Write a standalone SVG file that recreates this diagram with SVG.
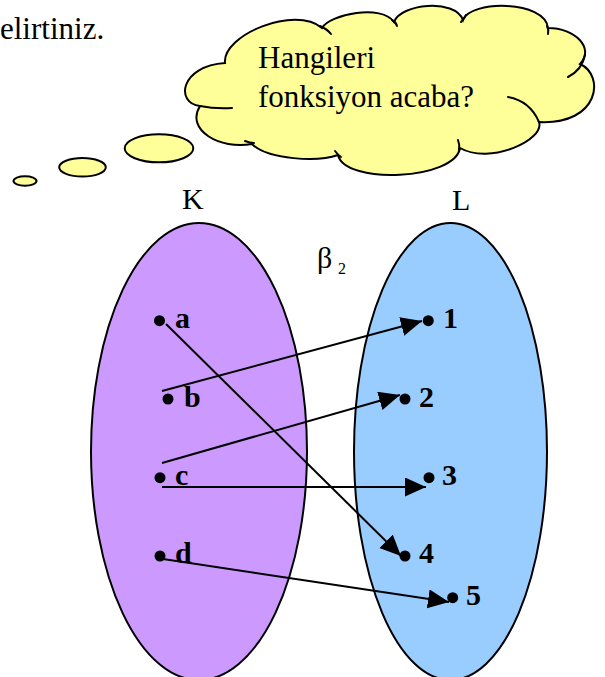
<svg xmlns="http://www.w3.org/2000/svg" width="605" height="677" viewBox="0 0 605 677">
  <style>
    .t { font-family: "Liberation Serif", "Times New Roman", serif; fill: #000; }
    .big { font-size: 31px; }
    .lbl { font-size: 30px; }
    .b { font-size: 30px; font-weight: bold; }
    .cloud { fill: #FFFF99; stroke: #000; stroke-width: 2; }
    .curl { fill: none; stroke: #000; stroke-width: 2; stroke-linecap: round; }
    .set { stroke: #000; stroke-width: 2; }
    .dot { fill: #000; }
    .conn { stroke: #000; stroke-width: 2; fill: none; marker-end: url(#ah); }
  </style>
  <defs>
    <marker id="ah" markerUnits="userSpaceOnUse" markerWidth="22" markerHeight="20" refX="21" refY="9.5" orient="auto">
      <path d="M0,0 L21,9.5 L0,19 z" fill="#000"/>
    </marker>
  </defs>
  <rect width="605" height="677" fill="#fff"/>

  <text class="t big" x="0" y="39">elirtiniz.</text>

  <g id="thought">
    <ellipse class="cloud" cx="25" cy="181" rx="11.5" ry="4.7"/>
    <ellipse class="cloud" cx="82.5" cy="167.3" rx="23.3" ry="9.3"/>
    <ellipse class="cloud" cx="159" cy="148.3" rx="34.3" ry="14"/>
    <path class="cloud" d="M200,106 C175,103 180,66 225,63 C222,35 295,5 322,28 C330,14 382,4 394,22 C400,4 455,-2 463,20 C470,0 545,0 548,28 C575,28 595,48 580,64 C605,75 600,125 539,122 C545,140 490,165 460,148 C455,180 345,185 338,155 C318,162 268,160 252,144 C220,150 185,130 200,106 Z"/>
    <path class="curl" d="M200,106 Q215,109 232,108"/>
    <path class="curl" d="M320,26 Q327,29 331,34"/>
    <path class="curl" d="M392,20 Q396,22 397,26"/>
    <path class="curl" d="M466,15 Q464,19 461,22"/>
    <path class="curl" d="M547,26 Q549,30 548,34"/>
    <path class="curl" d="M585,55 Q582,70 568,77"/>
    <path class="curl" d="M508,97 Q530,101 539,122"/>
    <path class="curl" d="M458,140 Q460,145 459,150"/>
    <path class="curl" d="M335,151 Q338,155 341,157"/>
    <path class="curl" d="M245,141 Q250,143 254,143"/>
    <text class="t big" x="258" y="68">Hangileri</text>
    <text class="t big" x="258" y="107">fonksiyon acaba?</text>
  </g>

  <g id="setK">
    <ellipse class="set" cx="199" cy="451.5" rx="108" ry="228.5" fill="#CC99FF"/>
    <text class="t lbl" x="182" y="209">K</text>
  </g>
  <g id="setL">
    <ellipse class="set" cx="450.5" cy="451.5" rx="96.5" ry="228.5" fill="#99CCFF"/>
    <text class="t lbl" x="452" y="210">L</text>
  </g>

  <g id="beta">
    <text class="t lbl" x="317" y="268">β</text>
    <text class="t" x="338" y="274" font-size="16">2</text>
  </g>

  <g id="node-a"><circle class="dot" cx="159.5" cy="320.7" r="5.5"/><text class="t b" x="175" y="328">a</text></g>
  <g id="node-b"><circle class="dot" cx="168" cy="399" r="5.5"/><text class="t b" x="184" y="407">b</text></g>
  <g id="node-c"><circle class="dot" cx="160" cy="477.7" r="5.5"/><text class="t b" x="175" y="485">c</text></g>
  <g id="node-d"><circle class="dot" cx="160" cy="556" r="5.5"/><text class="t b" x="175" y="563">d</text></g>

  <g id="node-1"><circle class="dot" cx="428.3" cy="320.7" r="5.5"/><text class="t b" x="443" y="328">1</text></g>
  <g id="node-2"><circle class="dot" cx="405" cy="399" r="5.5"/><text class="t b" x="419" y="407">2</text></g>
  <g id="node-3"><circle class="dot" cx="429" cy="477.7" r="5.5"/><text class="t b" x="442" y="485">3</text></g>
  <g id="node-4"><circle class="dot" cx="405" cy="556" r="5.5"/><text class="t b" x="419" y="563">4</text></g>
  <g id="node-5"><circle class="dot" cx="452.7" cy="597.7" r="5.5"/><text class="t b" x="466" y="605">5</text></g>

  <g id="connectors">
    <line class="conn" x1="162" y1="391" x2="422" y2="321"/>
    <line class="conn" x1="162" y1="463" x2="400" y2="395"/>
    <line class="conn" x1="162" y1="487" x2="426" y2="487"/>
    <line class="conn" x1="166" y1="324" x2="401" y2="556"/>
    <line class="conn" x1="163" y1="559" x2="449" y2="602"/>
  </g>
</svg>
